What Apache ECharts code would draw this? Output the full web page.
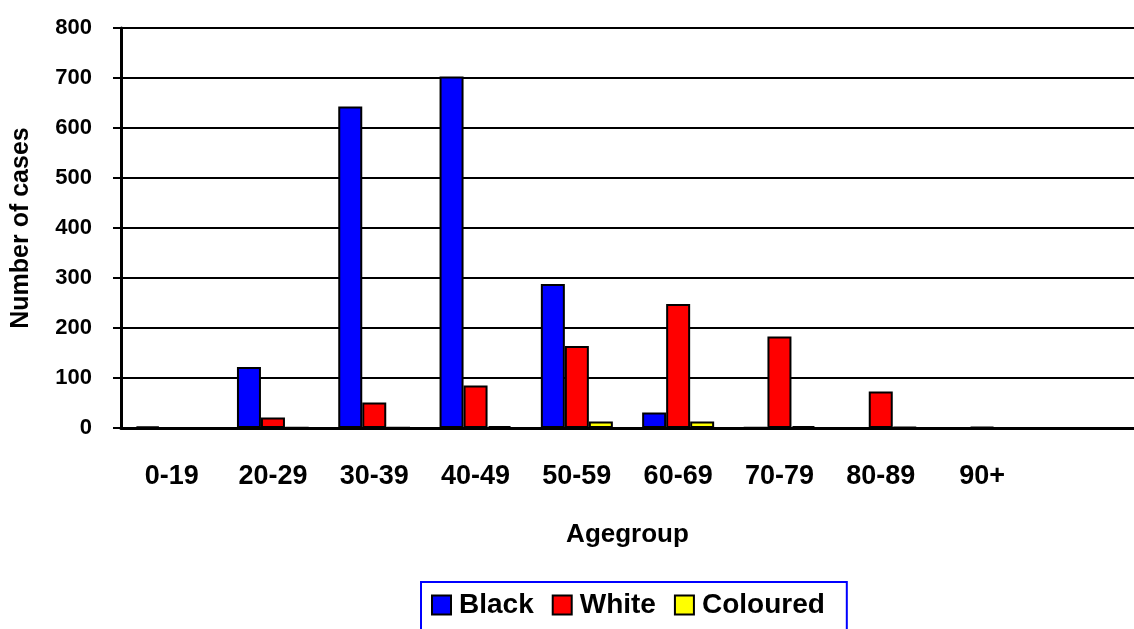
<!DOCTYPE html>
<html>
<head>
<meta charset="utf-8">
<script src="https://cdn.jsdelivr.net/npm/echarts@6/dist/echarts.min.js"></script>
<style>
  html, body { margin: 0; padding: 0; background: #fff; }
  #chart { width: 1134px; height: 629px; }
</style>
</head>
<body>
<div id="chart"></div>
<script>
// Age groups (the trailing empty slot is an unused category on the axis)
const ageGroups = ['0-19', '20-29', '30-39', '40-49', '50-59', '60-69', '70-79', '80-89', '90+', ''];

// Number of cases per age group
const blackCases    = [3, 122, 643, 703, 288, 31, 1, 0, 0, null];
const whiteCases    = [0, 21, 51, 85, 164, 248, 183, 73, 2, null];
const colouredCases = [0, 1, 1, 4, 13, 13, 4, 2, 0, null];

const yTicks = { min: 0, max: 800, step: 100 };

const FONT = '"Liberation Sans", Arial, sans-serif';

const chart = echarts.init(document.getElementById('chart'), null, { renderer: 'canvas' });

function barSeries(name, data, color) {
  return {
    name: name,
    type: 'bar',
    data: data,
    barWidth: 24,
    barGap: '0%',
    itemStyle: { color: color, borderColor: '#000', borderWidth: 2 },
    emphasis: { disabled: true },
    animation: false
  };
}

chart.setOption({
  backgroundColor: '#ffffff',
  animation: false,
  textStyle: { fontFamily: FONT, color: '#000' },
  grid: { left: 121, top: 28, right: -12, bottom: 201, containLabel: false },
  legend: {
    left: 421,
    top: 582,
    orient: 'horizontal',
    icon: 'rect',
    itemWidth: 19,
    itemHeight: 19,
    itemGap: 18,
    borderColor: '#0000ff',
    borderWidth: 2,
    padding: [9, 22, 30, 10],
    textStyle: { fontFamily: FONT, fontSize: 28, fontWeight: 'bold', color: '#000', padding: [0, 0, 0, 3] },
    data: ['Black', 'White', 'Coloured']
  },
  xAxis: {
    type: 'category',
    data: ageGroups,
    name: 'Agegroup',
    nameLocation: 'middle',
    nameGap: 94,
    nameTextStyle: { fontFamily: FONT, fontSize: 26, fontWeight: 'bold', color: '#000' },
    axisLine: { lineStyle: { color: '#000', width: 3 } },
    axisTick: { length: 10, lineStyle: { color: '#000', width: 2 } },
    axisLabel: { fontFamily: FONT, fontSize: 27, fontWeight: 'bold', color: '#000', margin: 35, interval: 0 },
    splitLine: { show: false }
  },
  yAxis: {
    type: 'value',
    min: yTicks.min,
    max: yTicks.max,
    interval: yTicks.step,
    name: 'Number of cases',
    nameLocation: 'middle',
    nameGap: 87,
    nameTextStyle: { fontFamily: FONT, fontSize: 25, fontWeight: 'bold', color: '#000' },
    axisLine: { show: true, lineStyle: { color: '#000', width: 3 } },
    axisTick: { show: true, length: 8, lineStyle: { color: '#000', width: 2 } },
    axisLabel: { fontFamily: FONT, fontSize: 22, fontWeight: 'bold', color: '#000', margin: 29 },
    splitLine: { show: true, lineStyle: { color: '#000', width: 2 } }
  },
  series: [
    barSeries('Black', blackCases, '#0000ff'),
    barSeries('White', whiteCases, '#ff0000'),
    barSeries('Coloured', colouredCases, '#ffff00')
  ]
});
</script>
</body>
</html>
